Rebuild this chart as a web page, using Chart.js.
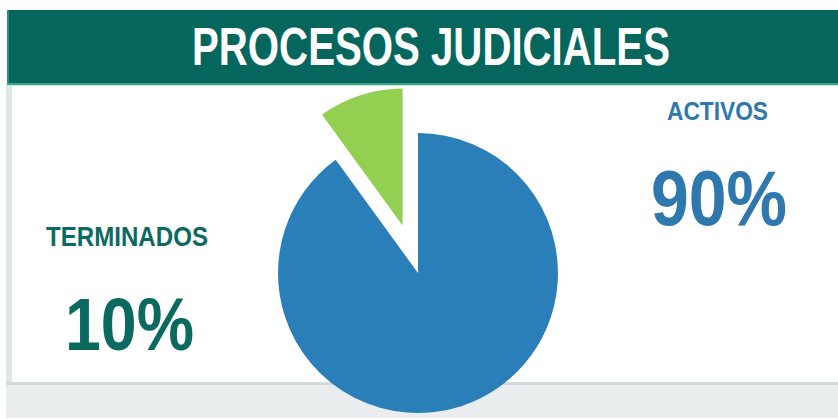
<!DOCTYPE html>
<html>
<head>
<meta charset="utf-8">
<script src="https://cdn.jsdelivr.net/npm/chart.js@4/dist/chart.umd.min.js"></script>
<style>
  html, body { margin: 0; padding: 0; width: 838px; height: 419px; overflow: hidden; background: #ffffff; }
  #bg { position: absolute; left: 0; top: 0; }
  #pie { position: absolute; left: 218px; top: 73px; }
  text { font-family: "Liberation Sans Narrow", "Liberation Sans", Arial, sans-serif; font-weight: bold; }
</style>
</head>
<body>
<svg id="bg" width="838" height="419" xmlns="http://www.w3.org/2000/svg">
  <rect x="0" y="0" width="838" height="419" fill="#ffffff"/>
  <!-- card left border and bottom area -->
  <rect x="6" y="84" width="6" height="300" fill="#e0e5e5"/>
  <rect x="6" y="382" width="832" height="3" fill="#d4dbdb"/>
  <rect x="6" y="385" width="832" height="33" fill="#e9eded"/>
  <!-- header band -->
  <rect x="7" y="10" width="831" height="74" fill="#05665e"/>
  <rect x="7" y="10" width="2" height="74" fill="#2f8c7b"/>
  <rect x="7" y="83" width="831" height="2" fill="#3aa384"/>
  <rect x="7" y="85" width="831" height="1" fill="#c6e6da"/>
  <text id="title" x="192" y="65" font-size="53" fill="#ffffff" textLength="478" lengthAdjust="spacingAndGlyphs"></text>
  <text id="lab0" x="667" y="120" font-size="25" fill="#2f78ad" textLength="101" lengthAdjust="spacingAndGlyphs"></text>
  <text id="val0" x="651" y="225" font-size="77" fill="#2f78ad" textLength="136" lengthAdjust="spacingAndGlyphs"></text>
  <text id="lab1" x="46" y="246" font-size="28" fill="#0b6a60" textLength="162" lengthAdjust="spacingAndGlyphs"></text>
  <text id="val1" x="65" y="350" font-size="74" fill="#0b6a60" textLength="129" lengthAdjust="spacingAndGlyphs"></text>
</svg>
<canvas id="pie" width="400" height="400"></canvas>
<script>
// ---- data ----
const title = 'PROCESOS JUDICIALES';
const categories = ['ACTIVOS', 'TERMINADOS'];
const values = [90, 10];
const explodedIndex = 1;

// ---- styles ----
const sliceColors = ['#2b7fb8', '#93d052'];
const EXPLODE = 50;
const SHRINK = 0.978;

document.getElementById('title').textContent = title;
document.getElementById('lab0').textContent = categories[0];
document.getElementById('val0').textContent = values[0] + '%';
document.getElementById('lab1').textContent = categories[1];
document.getElementById('val1').textContent = values[1] + '%';

const explodePlugin = {
  id: 'explode',
  beforeDatasetsDraw(chart) {
    const meta = chart.getDatasetMeta(0);
    meta.data.forEach((arc, i) => {
      if (i !== explodedIndex || arc.__wrapped) return;
      const orig = arc.draw;
      arc.draw = function (ctx, area) {
        const mid = (this.startAngle + this.endAngle) / 2;
        ctx.save();
        ctx.translate(this.x + Math.cos(mid) * EXPLODE, this.y + Math.sin(mid) * EXPLODE);
        ctx.scale(SHRINK, SHRINK);
        ctx.translate(-this.x, -this.y);
        orig.call(this, ctx, area);
        ctx.restore();
      };
      arc.__wrapped = true;
    });
  }
};

new Chart(document.getElementById('pie'), {
  type: 'pie',
  data: {
    labels: categories,
    datasets: [{
      data: values,
      backgroundColor: sliceColors,
      borderWidth: 0,
      radius: 140
    }]
  },
  options: {
    responsive: false,
    animation: false,
    layout: { padding: 0 },
    plugins: { legend: { display: false }, tooltip: { enabled: false } }
  },
  plugins: [explodePlugin]
});
</script>
</body>
</html>
